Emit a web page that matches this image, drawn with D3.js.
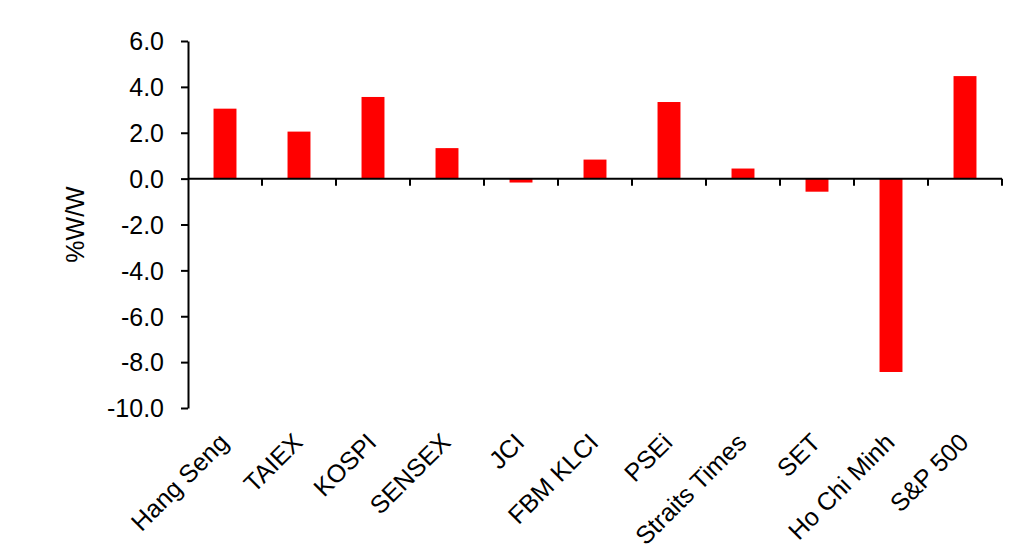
<!DOCTYPE html>
<html><head><meta charset="utf-8">
<script src="https://cdn.jsdelivr.net/npm/d3@7"></script>
<style>body{margin:0;background:#fff;}text{font-family:"Liberation Sans",Arial,sans-serif;}</style>
</head><body><svg id="c" width="1022" height="555"></svg>
<script>
const categories = ["Hang Seng","TAIEX","KOSPI","SENSEX","JCI","FBM KLCI","PSEi","Straits Times","SET","Ho Chi Minh","S&P 500"];
const values = [3.05, 2.05, 3.56, 1.33, -0.17, 0.83, 3.34, 0.44, -0.57, -8.43, 4.47];
const yTicks = [6,4,2,0,-2,-4,-6,-8,-10];
const yLabel = "%W/W";

(function(){
const svg = d3.select("#c");
const mLeft = 188, mRight = 1002, mTop = 41, mBottom = 408;
const FS = 25;
const x = d3.scaleBand().domain(categories).range([mLeft, mRight]).paddingInner(0.69).paddingOuter(0.345);
const xb = d3.scaleBand().domain(categories).range([mLeft, mRight]);
const y = d3.scaleLinear().domain([-10, 6]).range([mBottom, mTop]);

// bars
svg.append("g").selectAll("rect").data(values).join("rect")
  .attr("x", (d,i) => x(categories[i]))
  .attr("width", x.bandwidth())
  .attr("y", d => y(Math.max(0,d)))
  .attr("height", d => Math.abs(y(d) - y(0)))
  .attr("fill", "#ff0000");

// y axis
const ya = svg.append("g").attr("transform", `translate(${mLeft},0)`)
  .call(d3.axisLeft(y).tickValues(yTicks).tickFormat(d => d.toFixed(1)).tickSize(7).tickSizeOuter(0));
ya.select(".domain").attr("stroke", "#000").attr("stroke-width", 2);
ya.selectAll(".tick line").attr("stroke", "#000").attr("stroke-width", 2);
ya.selectAll(".tick text").attr("font-size", FS).attr("fill", "#000").attr("x", -24).attr("dy", "0.35em").attr("font-family", "Liberation Sans, Arial, sans-serif");

// x axis at zero
const xg = svg.append("g").attr("transform", `translate(0,${y(0)})`);
xg.append("line").attr("x1", mLeft).attr("x2", mRight).attr("stroke", "#000").attr("stroke-width", 2);
const bounds = categories.map(c => xb(c) + xb.bandwidth());
xg.selectAll("line.t").data(bounds).join("line").attr("class","t")
  .attr("x1", d => d).attr("x2", d => d).attr("y1", 0).attr("y2", 7)
  .attr("stroke", "#000").attr("stroke-width", 2);

// category labels below plot
svg.append("g").selectAll("text").data(categories).join("text")
  .attr("transform", d => `translate(${xb(d) + xb.bandwidth()/2 + 5},${mBottom + 36}) rotate(-45)`)
  .attr("text-anchor", "end")
  .attr("font-size", FS)
  .attr("fill", "#000")
  .text(d => d);

// y label
svg.append("text").attr("transform", `translate(84,${(mTop+mBottom)/2}) rotate(-90)`)
  .attr("text-anchor", "middle").attr("font-size", FS).attr("fill", "#000").text(yLabel);
})();
</script></body></html>
